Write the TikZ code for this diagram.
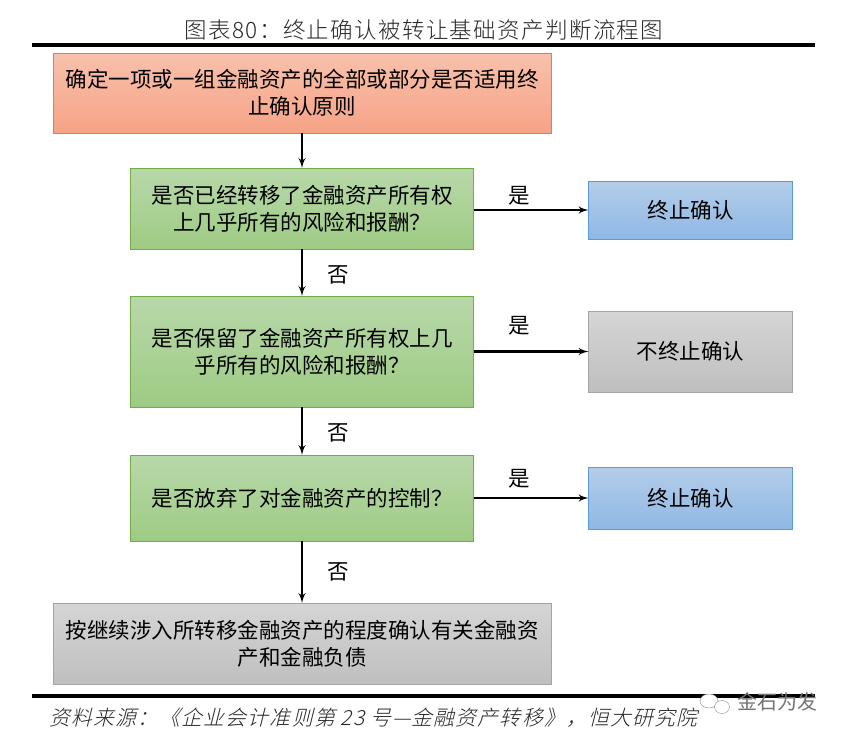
\documentclass[tikz,border=0pt]{standalone}
\usepackage{fontspec}
\setmainfont{Noto Sans CJK SC}
\newfontfamily\titlefont[LetterSpace=6]{Noto Sans CJK SC Light}
\newfontfamily\notefont[FakeSlant=0.25,LetterSpace=6]{Noto Sans CJK SC Light}
\usetikzlibrary{arrows,positioning,shapes}
\definecolor{redtop}{HTML}{F8C1AC}
\definecolor{redbot}{HTML}{F6A386}
\definecolor{greentop}{HTML}{B8D8AA}
\definecolor{greenbot}{HTML}{9ECB84}
\definecolor{bluetop}{HTML}{B4CDE9}
\definecolor{bluebot}{HTML}{8FB8E5}
\definecolor{greytop}{HTML}{D5D5D5}
\definecolor{greybot}{HTML}{BFBFBF}
\definecolor{redline}{HTML}{ED7D31}
\definecolor{greenline}{HTML}{70AD47}
\definecolor{blueline}{HTML}{5B9BD5}
\definecolor{greyline}{HTML}{A5A5A5}
\tikzset{
  box/.style ={draw, line width=1pt, outer sep=0pt, inner sep=0pt, text centered, align=center,
    font=\fontsize{21.5}{27}\selectfont},
  startbox/.style ={box, draw=redline, top color=redtop, bottom color=redbot, minimum width=498pt, minimum height=80pt},
  askbox/.style ={box, draw=greenline, top color=greentop, bottom color=greenbot, minimum width=343pt},
  bluebox/.style ={box, draw=blueline, top color=bluetop, bottom color=bluebot, minimum width=204pt},
  greybox/.style ={box, draw=greyline, top color=greytop, bottom color=greybot},
  line/.style ={draw, line width=2.4pt, -latex', shorten >=0pt},
  rule/.style ={draw, line width=4pt},
  lab/.style ={font=\fontsize{21.5}{27}\selectfont, inner sep=0pt}
}
\begin{document}
\begin{tikzpicture}[x=1pt,y=1pt]
  \useasboundingbox (0,0) rectangle (846,-739);

  \node[text=black!85, font=\titlefont\fontsize{22.5}{26}\selectfont] (title) at (424,-30) {图表80：终止确认被转让基础资产判断流程图};
  \draw[rule] (32,-45) -- (815,-45);

  \node[startbox] (start) at (302,-93) {确定一项或一组金融资产的全部或部分是否适用终\\止确认原则};
  \node[askbox,minimum height=81pt,below=35pt of start] (ask1) {是否已经转移了金融资产所有权\\上几乎所有的风险和报酬？};
  \node[askbox,minimum height=111pt,below=47pt of ask1] (ask2) {是否保留了金融资产所有权上几\\乎所有的风险和报酬？};
  \node[askbox,minimum height=86pt,below=48pt of ask2] (ask3) {是否放弃了对金融资产的控制？};
  \node[greybox,minimum width=498pt,minimum height=81pt,below=62pt of ask3] (final) {按继续涉入所转移金融资产的程度确认有关金融资\\产和金融负债};

  \node[bluebox,minimum height=58pt,right=115pt of ask1,yshift=-1.5pt] (stop1) {终止确认};
  \node[greybox,minimum width=204pt,minimum height=81pt,right=115pt of ask2] (keep) {不终止确认};
  \node[bluebox,minimum height=62pt,right=115pt of ask3] (stop2) {终止确认};

  \begin{scope}[every path/.style=line]
    \path (start) -- (ask1);
    \path (ask1) -- node[lab,right=24pt,yshift=-2pt] {否} (ask2);
    \path (ask2) -- node[lab,right=24pt,yshift=-2pt] {否} (ask3);
    \path (ask3) -- node[lab,right=24pt] {否} (final);
    \path (stop1 -| ask1.east) -- node[lab,above=4pt,xshift=-12pt] {是} (stop1);
    \path (ask2) -- node[lab,above=15pt,xshift=-12pt] {是} (keep);
    \path (ask3) -- node[lab,above=9pt,xshift=-12pt] {是} (stop2);
  \end{scope}

  \draw[rule] (32,-696) -- (815,-696);
  \node[text=black!85, font=\notefont\fontsize{20.8}{24}\selectfont, anchor=west] (source) at (46,-718) {资料来源：《企业会计准则第 23 号—金融资产转移》，恒大研究院};

  \node[draw=black!45, fill=white, ellipse, minimum width=18pt, minimum height=14pt, inner sep=0pt] (icona) at (709,-701) {};
  \node[draw=black!45, fill=white, ellipse, minimum width=15pt, minimum height=13pt, inner sep=0pt] (iconb) at (722,-707) {};
  \node[text=black!55, font=\fontsize{20}{22}\selectfont, anchor=west] (mark) at (734,-702) {金石为发};
\end{tikzpicture}
\end{document}
